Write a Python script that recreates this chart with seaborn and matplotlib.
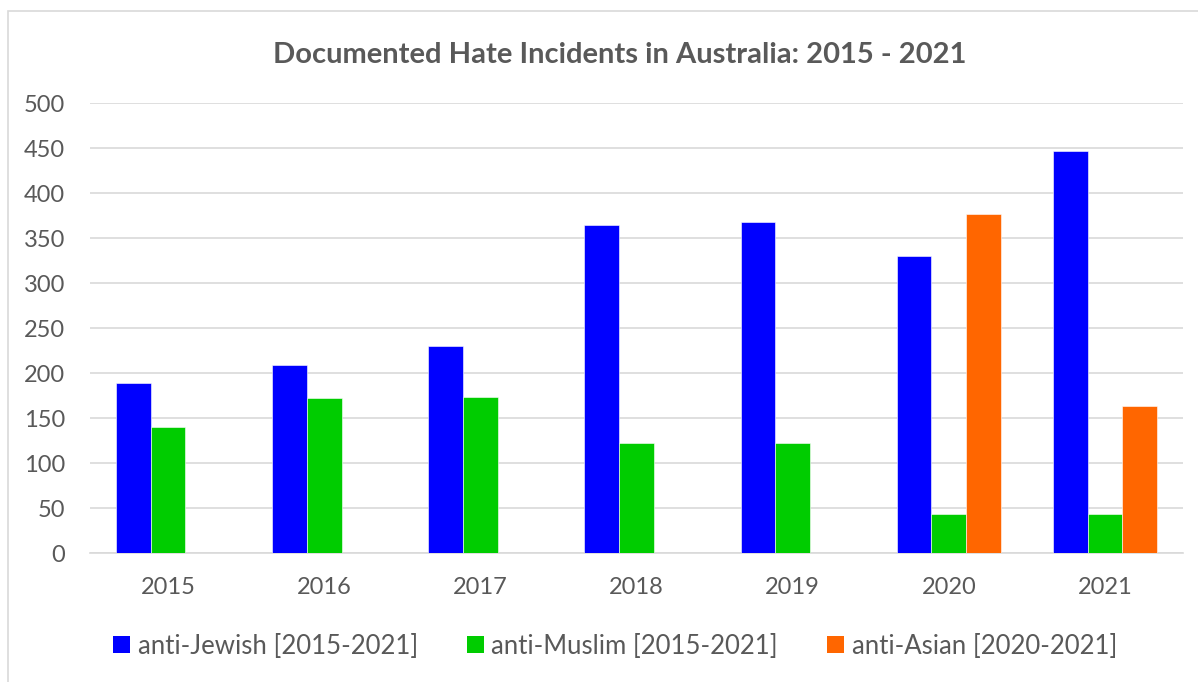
import matplotlib
matplotlib.use("Agg")
import matplotlib.pyplot as plt
import seaborn as sns
import pandas as pd
import numpy as np
from matplotlib.patches import Patch, Rectangle

years = ["2015", "2016", "2017", "2018", "2019", "2020", "2021"]
anti_jewish = [189, 209, 230, 365, 368, 330, 447]
anti_muslim = [140, 173, 174, 122, 123, 44, 44]
anti_asian_years = ["2020", "2021"]
anti_asian = [377, 164]

series_names = ["anti-Jewish [2015-2021]", "anti-Muslim [2015-2021]", "anti-Asian [2020-2021]"]
colors = ["#0000FF", "#00CC00", "#FF6600"]

rows = []
for y, v in zip(years, anti_jewish):
    rows.append((y, series_names[0], v))
for y, v in zip(years, anti_muslim):
    rows.append((y, series_names[1], v))
for y, v in zip(anti_asian_years, anti_asian):
    rows.append((y, series_names[2], v))
df = pd.DataFrame(rows, columns=["year", "series", "count"])

sns.set_theme(style="white")
plt.rcParams["font.family"] = ["Lato", "DejaVu Sans"]

W, H = 1198, 682
fig = plt.figure(figsize=(W / 100, H / 100), dpi=100)
ax = fig.add_axes([90 / W, (H - 553.3) / H, (1183 - 90) / W, (553.3 - 103.3) / H])

sns.barplot(data=df, x="year", y="count", hue="series", order=years,
            hue_order=series_names, palette=colors, width=0.667,
            saturation=1, dodge=True, edgecolor="#ffffff", linewidth=0.4,
            legend=False, ax=ax, zorder=3)

grey = "#595959"
ax.set_ylim(0, 500)
ax.set_yticks(range(0, 501, 50))
ax.set_xlim(-0.5, len(years) - 0.5)
ax.yaxis.grid(True, color="#d9d9d9", linewidth=1.2, zorder=0)
ax.set_axisbelow(True)
for s in ["top", "right", "left"]:
    ax.spines[s].set_visible(False)
ax.spines["bottom"].set_color("#d9d9d9")
ax.spines["bottom"].set_linewidth(1.2)
ax.set_xlabel("")
ax.set_ylabel("")
ax.tick_params(axis="both", length=0, labelsize=17, labelcolor=grey)
ax.tick_params(axis="y", pad=18)
ax.tick_params(axis="x", pad=17)

fig.text(620 / W, 1 - 55 / H, "Documented Hate Incidents in Australia: 2015 - 2021",
         ha="center", va="center", fontsize=21, fontweight="bold", color=grey)

handles = [Patch(facecolor=c, edgecolor="none") for c in colors]
leg = fig.legend(handles, series_names, loc="center", bbox_to_anchor=(615 / W, 1 - 646 / H),
                 ncol=3, frameon=False, fontsize=18.5, labelcolor=grey,
                 handlelength=0.66, handleheight=0.66, handletextpad=0.3, columnspacing=1.9)

# outer chart border
fig.add_artist(Rectangle((8 / W, -0.05), 1.2, 1 - 11 / H + 0.05, transform=fig.transFigure,
                         fill=False, edgecolor="#d9d9d9", linewidth=1.2))

fig.savefig("out.png", dpi=100, facecolor="white")
